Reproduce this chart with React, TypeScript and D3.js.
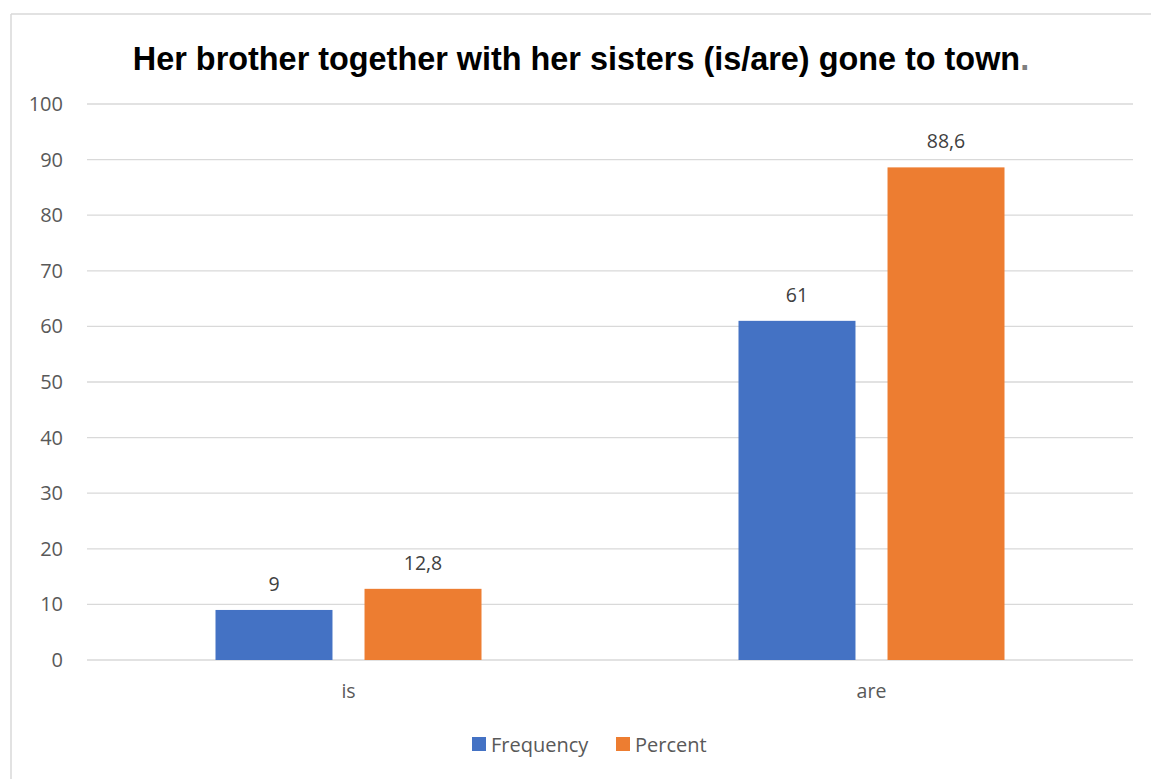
import React from "react";
import * as d3 from "d3";

const categories = ["is", "are"];
const seriesNames = ["Frequency", "Percent"];
const frequency = [9, 61];
const percent = [12.8, 88.6];
const yTicks = [0, 10, 20, 30, 40, 50, 60, 70, 80, 90, 100];
const colors = ["#4472C4", "#ED7D31"];
const title = "Her brother together with her sisters (is/are) gone to town";

const W = 1151, H = 779;
const plot = { left: 87, right: 1133, top: 104, bottom: 660 };

export default function App() {
  const x = d3.scaleBand<string>().domain(categories).range([plot.left, plot.right]);
  const y = d3.scaleLinear().domain([0, 100]).range([plot.bottom, plot.top]);
  const inner = d3.scaleBand<string>().domain(seriesNames).range([0, 266]).paddingInner(0.215);
  const series = [frequency, percent];
  const fmt = (v: number) => String(v).replace(".", ",");
  const font = "'Open Sans', 'Noto Sans', sans-serif";
  return (
    <svg width={W} height={H} style={{ position: "absolute", left: 0, top: 0 }}>
      <rect x={0} y={0} width={W} height={H} fill="#fff" />
      <line x1={11} y1={14} x2={W} y2={14} stroke="#d9d9d9" strokeWidth={1.5} />
      <line x1={11} y1={14} x2={11} y2={H} stroke="#d9d9d9" strokeWidth={1.5} />
      <text x={581} y={70} textAnchor="middle" fontFamily="'Liberation Sans', Arial, sans-serif" fontWeight="bold" fontSize={32.4} fill="#000">
        {title}<tspan fill="#7f7f7f">.</tspan>
      </text>
      {yTicks.map((t) => (
        <g key={t}>
          <line x1={plot.left} x2={plot.right} y1={y(t)} y2={y(t)} stroke="#d9d9d9" strokeWidth={t === 0 ? 1.5 : 1.3} />
          <text x={63} y={y(t) + 7} textAnchor="end" fontFamily={font} fontSize={20} fill="#595959">{t}</text>
        </g>
      ))}
      {categories.map((c, ci) => {
        const x0 = (x(c) as number) + x.bandwidth() / 2 - 133;
        return (
          <g key={c}>
            {seriesNames.map((s, si) => {
              const v = series[si][ci];
              const bx = x0 + (inner(s) as number);
              return (
                <g key={s}>
                  <rect x={bx} y={y(v)} width={inner.bandwidth()} height={y(0) - y(v)} fill={colors[si]} />
                  <text x={bx + inner.bandwidth() / 2} y={y(v) - 19} textAnchor="middle" fontFamily={font} fontSize={19.5} fill="#404040">{fmt(v)}</text>
                </g>
              );
            })}
            <text x={(x(c) as number) + x.bandwidth() / 2} y={698} textAnchor="middle" fontFamily={font} fontSize={19.5} fill="#595959">{c}</text>
          </g>
        );
      })}
      {seriesNames.map((s, si) => {
        const lx = [472, 616][si];
        return (
          <g key={s}>
            <rect x={lx} y={737} width={14} height={14} fill={colors[si]} />
            <text x={lx + 19} y={752} fontFamily={font} fontSize={20} fill="#595959">{s}</text>
          </g>
        );
      })}
    </svg>
  );
}
